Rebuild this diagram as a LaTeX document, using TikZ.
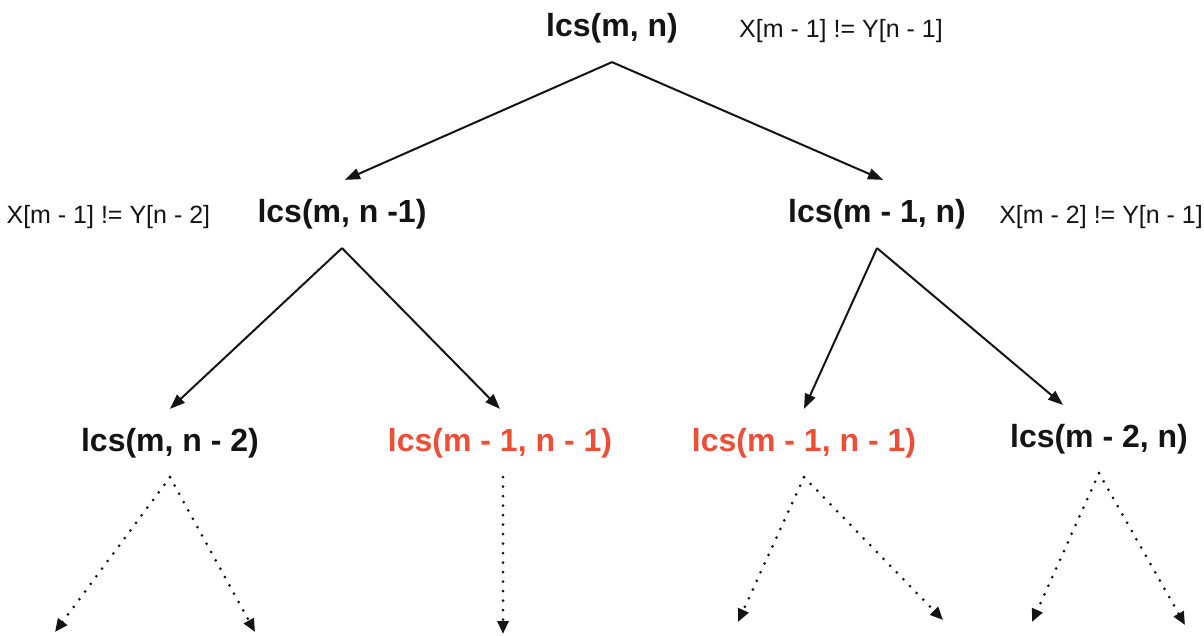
\documentclass[tikz,border=0pt]{standalone}
\usepackage{fontspec}
\setmainfont{Liberation Sans}
\usepackage{tikz}
\usetikzlibrary{arrows.meta, positioning}
\definecolor{myred}{RGB}{240,78,52}
\definecolor{mydark}{RGB}{20,20,20}
\tikzset{
  callnode/.style={font=\fontsize{32}{38}\selectfont\bfseries, text=mydark,
    inner xsep=0pt, inner ysep=19pt},
  redcall/.style={callnode, text=myred},
  condnode/.style={font=\fontsize{25}{30}\selectfont, text=mydark,
    inner sep=0pt, yshift=-3pt},
  arrow/.style={-{Triangle[length=15pt,width=11pt]}, line width=2pt, color=mydark},
  dotarrow/.style={-{Triangle[length=13pt,width=11pt]}, line width=3pt,
    line cap=round, dash pattern=on 0pt off 9.5pt, color=mydark}
}

\begin{document}
\begin{tikzpicture}[x=1pt, y=-1pt]
  \useasboundingbox (0,0) rectangle (1204,636);

  % calls
  \node[callnode] (root) at (612,28) {lcs(m, n)};
  \node[condnode, right=61pt of root] (rootcond) {X[m - 1] != Y[n - 1]};
  \node[callnode] (midl) at (342,214) {lcs(m, n -1)};
  \node[condnode, left=47pt of midl] (midlcond) {X[m - 1] != Y[n - 2]};
  \node[callnode] (midr) at (877,214) {lcs(m - 1, n)};
  \node[condnode, right=33pt of midr] (midrcond) {X[m - 2] != Y[n - 1]};
  \node[callnode] (botA) at (170,443) {lcs(m, n - 2)};
  \node[redcall] (botB) at (500,443) {lcs(m - 1, n - 1)};
  \node[redcall] (botC) at (804,443) {lcs(m - 1, n - 1)};
  \node[callnode] (botD) at (1099,439) {lcs(m - 2, n)};

  % open ends
  \coordinate (endA1) at (55,632);
  \coordinate (endA2) at (255,632);
  \coordinate (endB) at (503,634);
  \coordinate (endC1) at (738,622);
  \coordinate (endC2) at (943,620);
  \coordinate (endD1) at (1032,622);
  \coordinate (endD2) at (1185,625);

  \draw[arrow] (root.south) -- ([xshift=3pt]midl.north);
  \draw[arrow] (root.south) -- ([xshift=6pt]midr.north);
  \draw[arrow] (midl.south) -- (botA.north);
  \draw[arrow] (midl.south) -- (botB.north);
  \draw[arrow] (midr.south) -- (botC.north);
  \draw[arrow] (midr.south) -- ([xshift=-36pt]botD.north);

  \draw[dotarrow] (botA.south) -- (endA1);
  \draw[dotarrow] (botA.south) -- (endA2);
  \draw[dotarrow] (botB.south -| endB) -- (endB);
  \draw[dotarrow] (botC.south) -- (endC1);
  \draw[dotarrow] (botC.south) -- (endC2);
  \draw[dotarrow] (botD.south) -- (endD1);
  \draw[dotarrow] (botD.south) -- (endD2);
\end{tikzpicture}
\end{document}
